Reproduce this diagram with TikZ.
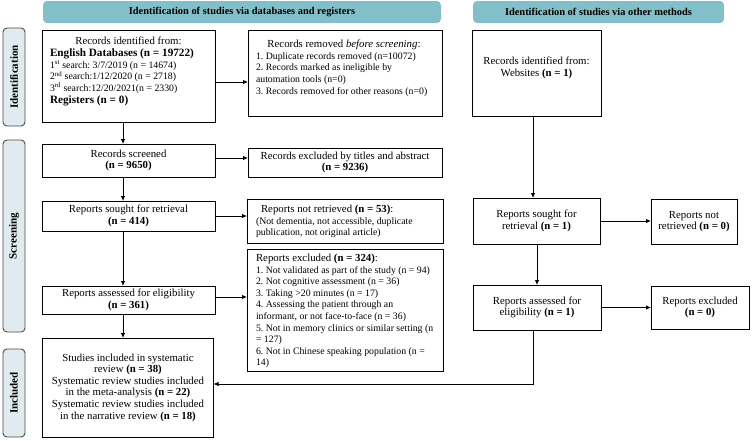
\documentclass[tikz,border=0pt]{standalone}
\usepackage{fontspec}
\setmainfont{Liberation Serif}
\usetikzlibrary{arrows.meta,calc}
\definecolor{hdrfill}{HTML}{82BFC8}
\definecolor{sidefill}{HTML}{E1EAEE}
\definecolor{sidedraw}{HTML}{4A4A4A}
\newcommand{\fn}{\fontsize{10.8}{11.6}\selectfont}
\newcommand{\fs}{\fontsize{9.8}{11.6}\selectfont}
\frenchspacing
\begin{document}
\begin{tikzpicture}[x=1pt,y=-1pt,
  box/.style={draw=black, line width=1pt, rectangle, inner xsep=3pt, inner ysep=0pt, outer sep=0pt, align=center, font=\fn},
  txt/.style={inner sep=0pt, outer sep=0pt, font=\fn, align=flush left},
  hdrbox/.style={fill=hdrfill, rounded corners=4pt, inner sep=0pt, minimum height=22pt, font=\bfseries\fontsize{10.4}{11}\selectfont},
  sidebox/.style={fill=sidefill, draw=sidedraw, line width=0.9pt, rounded corners=4pt, inner sep=0pt, minimum width=22pt},
  sidetxt/.style={rotate=90, inner sep=0pt, font=\bfseries\fontsize{11}{12}\selectfont},
  arr/.style={line width=0.8pt, -{Latex[length=5pt,width=4.5pt]}}]
\path[use as bounding box] (0,0) rectangle (753,440);

% headers
\node[hdrbox, minimum width=398pt] (hdr1) at (242,12) {Identification of studies via databases and registers};
\node[hdrbox, minimum width=251pt] (hdr2) at (598.5,12) {Identification of studies via other methods};

% side labels
\node[sidebox, minimum height=98pt] (sid1) at (14,77) {};
\node[sidetxt] (sid1t) at (sid1.center) {Identification};
\node[sidebox, minimum height=192pt] (sid2) at (14,236) {};
\node[sidetxt] (sid2t) at (sid2.center) {Screening};
\node[sidebox, minimum height=88pt] (sid3) at (14,393) {};
\node[sidetxt] (sid3t) at (sid3.center) {Included};

% left column
\node[box, minimum width=173pt, minimum height=92pt] (b1) at (128.5,76) {};
\node[txt, anchor=north west, text width=157pt, font=\fontsize{10.8}{11.7}\selectfont] (b1t) at (50,37) {%
  \makebox[\linewidth][c]{Records identified from:}\\
  {\fontsize{11.2}{11.7}\selectfont\textbf{English Databases (n = 19722)}}\\
  {\fs 1\textsuperscript{st} search: 3/7/2019 (n = 14674)}\\
  {\fs 2\textsuperscript{nd} search:1/12/2020 (n = 2718)}\\
  {\fs 3\textsuperscript{rd} search:12/20/2021(n = 2330)}\\
  {\fontsize{11.2}{11.7}\selectfont\textbf{Registers (n = 0)}}};

\node[box, minimum width=194pt, minimum height=86pt] (b2) at (345,73) {};
\node[txt, anchor=north west, text width=176pt] (b2t) at (256,40) {%
  \makebox[\linewidth][c]{Records removed \textit{before screening}:}\\
  {\fs 1. Duplicate records removed (n=10072)\\
  2. Records marked as ineligible by\\
  automation tools (n=0)\\
  3. Records removed for other reasons (n=0)}};

\node[box, minimum width=173pt, minimum height=33pt] (b3) at (128.5,160.5) {Records screened\\\textbf{(n = 9650)}};
\node[box, minimum width=194pt, minimum height=29pt] (b4) at (345,162.5) {Records excluded by titles and abstract\\\textbf{(n = 9236)}};

\node[box, minimum width=173pt, minimum height=30pt] (b5) at (128.5,216) {Reports sought for retrieval\\\textbf{(n = 414)}};
\node[box, minimum width=196pt, minimum height=44pt] (b6) at (345,221) {};
\node[txt, anchor=north west, text width=188pt] (b6t) at (256,205) {%
  \hspace*{5pt}Reports not retrieved \textbf{(n = 53)}:\\
  {\fs (Not dementia, not accessible, duplicate\\
  publication, not original article)}};

\node[box, minimum width=196pt, minimum height=122pt] (b7) at (345,310) {};
\node[txt, anchor=north west, text width=186pt] (b7t) at (256,254) {%
  Reports excluded \textbf{(n = 324)}:\\
  {\fs 1. Not validated as part of the study (n = 94)\\
  2. Not cognitive assessment (n = 36)\\
  3. Taking >20 minutes (n = 17)\\
  4. Assessing the patient through an\\
  informant, or not face-to-face (n = 36)\\
  5. Not in memory clinics or similar setting (n\\
  = 127)\\
  6. Not in Chinese speaking population (n =\\
  14)}};

\node[box, minimum width=173pt, minimum height=28pt] (b8) at (128.5,300) {Reports assessed for eligibility\\\textbf{(n = 361)}};
\node[box, minimum width=171pt, minimum height=99pt] (b9) at (128,387.5) {%
  Studies included in systematic\\
  review \textbf{(n = 38)}\\
  Systematic review studies included\\
  in the meta-analysis \textbf{(n = 22)}\\
  Systematic review studies included\\
  in the narrative review \textbf{(n = 18)}};

% right column
\node[box, minimum width=129pt, minimum height=86pt] (r1) at (536.5,73) {};
\node[txt, align=center] (r1t) at (536.5,68) {Records identified from:\\Websites \textbf{(n = 1)}};
\node[box, minimum width=127pt, minimum height=46pt] (r2) at (536.5,221) {Reports sought for\\retrieval \textbf{(n = 1)}};
\node[box, minimum width=86pt, minimum height=45pt] (r3) at (694,221.5) {Reports not\\retrieved \textbf{(n = 0)}};
\node[box, minimum width=128pt, minimum height=45pt] (r4) at (537,307.5) {Reports assessed for\\eligibility \textbf{(n = 1)}};
\node[box, minimum width=98pt, minimum height=43pt] (r5) at (700,307.5) {Reports excluded\\\textbf{(n = 0)}};

% helper coordinates
\coordinate (xl) at (123,0);
\coordinate (xr1) at (533,0);
\coordinate (xr2) at (537,0);
\coordinate (y12) at (0,82);
\coordinate (y34) at (0,158);
\coordinate (y87) at (0,297);
\coordinate (yret) at (0,384);

% connectors
\draw[arr] (b1.east |- y12) -- (b2.west |- y12);
\draw[arr] (b1.south -| xl) -- (b3.north -| xl);
\draw[arr] (b3.east |- y34) -- (b4.west |- y34);
\draw[arr] (b3.south -| xl) -- (b5.north -| xl);
\draw[arr] (b5.east) -- (b6.west |- b5.east);
\draw[arr] (b5.south -| xl) -- (b8.north -| xl);
\draw[arr] (b8.east |- y87) -- (b7.west |- y87);
\draw[arr] (b8.south -| xl) -- (b9.north -| xl);

\draw[arr] (r1.south -| xr1) -- (r2.north -| xr1);
\draw[arr] (r2.east) -- (r3.west |- r2.east);
\draw[arr] (r2.south -| xr2) -- (r4.north -| xr2);
\draw[arr] (r4.east) -- (r5.west |- r4.east);
\draw[arr] (r4.south -| xr1) -- (xr1 |- yret) -- (b9.east |- yret);
\end{tikzpicture}
\end{document}
